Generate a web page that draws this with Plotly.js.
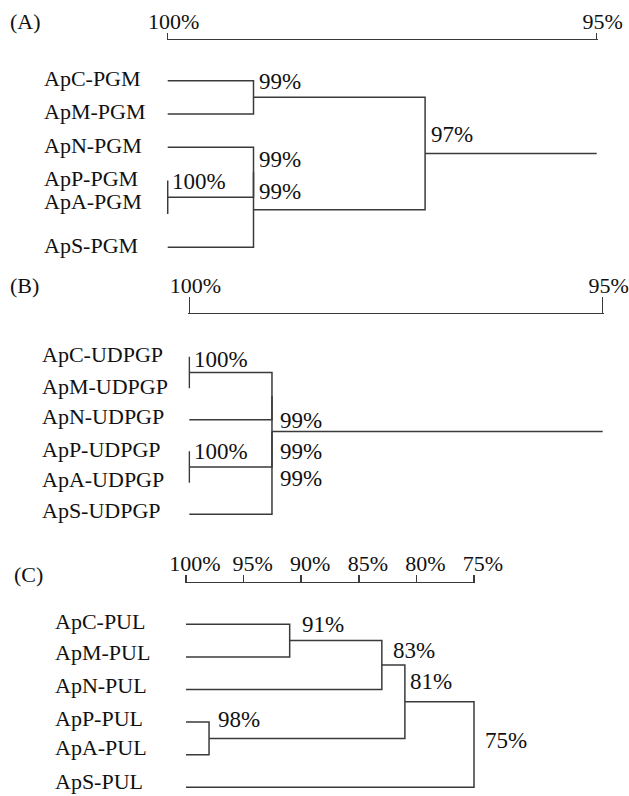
<!DOCTYPE html>
<html>
<head>
<meta charset="utf-8">
<script src="https://cdn.plot.ly/plotly-3.0.1.min.js"></script>
<style>
html,body{margin:0;padding:0;background:#fff;}
#chart{width:629px;height:796px;}
</style>
</head>
<body>
<div id="chart"></div>
<script>
// ---------------- data ----------------
// (A) PGM
const pgmLeaves = ['ApC-PGM', 'ApM-PGM', 'ApN-PGM', 'ApP-PGM', 'ApA-PGM', 'ApS-PGM'];
// merges: [childA, childB, similarity %]; leaves are 0..5, each merge creates node 6,7,...
const pgmMerges = [[3, 4, 100], [0, 1, 99], [2, 6, 99], [8, 5, 99], [7, 9, 97]];
const pgmScaleTicks = [100, 95];
const pgmRootEnd = 95;

// (B) UDPGP
const udpgpLeaves = ['ApC-UDPGP', 'ApM-UDPGP', 'ApN-UDPGP', 'ApP-UDPGP', 'ApA-UDPGP', 'ApS-UDPGP'];
const udpgpMerges = [[0, 1, 100], [3, 4, 100], [6, 2, 99], [8, 7, 99], [9, 5, 99]];
const udpgpScaleTicks = [100, 95];
const udpgpRootEnd = 95;

// (C) PUL
const pulLeaves = ['ApC-PUL', 'ApM-PUL', 'ApN-PUL', 'ApP-PUL', 'ApA-PUL', 'ApS-PUL'];
const pulMerges = [[0, 1, 91], [6, 2, 83], [3, 4, 98], [7, 8, 81], [9, 5, 75]];
const pulScaleTicks = [100, 95, 90, 85, 80, 75];
const pulRootEnd = 75;

const panelLetters = ['(A)', '(B)', '(C)'];

// ---------------- layout / style ----------------
const W = 629, H = 796;
const FONT = 'Liberation Serif, Times New Roman, serif';
const TXT = '#111111';
const LINE = '#3a3a3a';
const FS_LEAF = 22, FS_NODE = 23, FS_SCALE = 22, FS_LETTER = 22;

const panels = [
  {leaves: pgmLeaves, merges: pgmMerges, ticks: pgmScaleTicks, rootEnd: pgmRootEnd,
   x0: 167.7, x1: 596.7, scaleY: 40, bottom: 265, leaf0: 80.7, step: 33.3, ticklen: 6, tshift: -6,
   letterX: 8, letterY: 22, labelX: 42, labelNudge: [0, 1, 0, 0, 10, 0],
   mergeLabel: [[4, 3.03], [5, 0.02], [5, 2.36], [5, 3.33], [6, 1.63]], stemFrom: null},
  {leaves: udpgpLeaves, merges: udpgpMerges, ticks: udpgpScaleTicks, rootEnd: udpgpRootEnd,
   x0: 189.3, x1: 602.7, scaleY: 314.3, bottom: 540, leaf0: 356.7, step: 31.5, ticklen: 16, tshift: -6,
   letterX: 8, letterY: 285, labelX: 40, labelNudge: [0, 0, 1, 0, 1, 2],
   mergeLabel: [[5, 0.10], [5, 3.02], [8, 2.04], [8, 3.02], [8, 3.86]], stemFrom: 9},
  {leaves: pulLeaves, merges: pulMerges, ticks: pulScaleTicks, rootEnd: pulRootEnd,
   x0: 186, x1: 474, scaleY: 583.3, bottom: 796, leaf0: 624.3, step: 32.6, ticklen: 7, tshift: -9,
   letterX: 12, letterY: 574, labelX: 53, labelNudge: [1, 2, 2, 2, 5, 4],
   mergeLabel: [[12, 0.02], [11, 0.79], [9, 2.93], [5, 1.76], [11, 3.55]], stemFrom: null}
];

const traces = [];
const annotations = [];
const layout = {
  width: W, height: H,
  margin: {l: 0, r: 0, t: 0, b: 0},
  paper_bgcolor: '#ffffff', plot_bgcolor: 'rgba(0,0,0,0)',
  showlegend: false,
  font: {family: FONT, size: FS_LEAF, color: TXT},
  annotations: annotations
};

panels.forEach((p, k) => {
  const sfx = k === 0 ? '' : String(k + 1);
  const xr = 'x' + sfx, yr = 'y' + sfx;
  const v0 = p.ticks[0], v1 = p.ticks[p.ticks.length - 1];
  const ppu = (p.x1 - p.x0) / (v0 - v1);

  layout['xaxis' + sfx] = {
    domain: [(p.x0 - 1) / W, (p.x1 + 1) / W],
    range: [v0 + 1 / ppu, v1 - 1 / ppu],
    anchor: yr, side: 'top',
    showline: true, linecolor: LINE, linewidth: 1.5,
    ticks: 'outside', ticklen: p.ticklen, tickwidth: 1.5, tickcolor: LINE,
    tickvals: p.ticks, ticktext: p.ticks.map(v => v + '%'),
    tickfont: {family: FONT, size: FS_SCALE, color: TXT},
    ticklabelshift: p.tshift, ticklabelstandoff: -5,
    showgrid: false, zeroline: false, fixedrange: true
  };
  layout['yaxis' + sfx] = {
    domain: [1 - p.bottom / H, 1 - p.scaleY / H],
    range: [(p.bottom - p.leaf0) / p.step, (p.scaleY - p.leaf0) / p.step],
    anchor: xr,
    visible: false, showgrid: false, zeroline: false, fixedrange: true
  };

  // build dendrogram polylines from the merge table
  const n = p.leaves.length;
  const nodeX = [], nodeY = [];
  for (let i = 0; i < n; i++) { nodeX.push(v0); nodeY.push(i); }
  const xs = [], ys = [];
  p.merges.forEach(([a, b, s]) => {
    xs.push(nodeX[a], s, s, nodeX[b], null);
    ys.push(nodeY[a], nodeY[a], nodeY[b], nodeY[b], null);
    nodeX.push(s);
    nodeY.push((nodeY[a] + nodeY[b]) / 2);
  });
  const root = nodeX.length - 1;
  const stemY = p.stemFrom != null ? nodeY[p.stemFrom] : nodeY[root];
  if (p.rootEnd !== nodeX[root]) {
    xs.push(nodeX[root], p.rootEnd, null);
    ys.push(stemY, stemY, null);
  }
  traces.push({
    type: 'scatter', mode: 'lines', x: xs, y: ys, xaxis: xr, yaxis: yr,
    line: {color: LINE, width: 1.5}, hoverinfo: 'skip', connectgaps: false
  });

  // leaf labels
  p.leaves.forEach((name, i) => {
    annotations.push({
      xref: 'paper', yref: yr, x: p.labelX / W, y: i, xanchor: 'left', yanchor: 'middle',
      yshift: 2 + p.labelNudge[i], text: name, showarrow: false,
      font: {family: FONT, size: FS_LEAF, color: TXT}
    });
  });

  // node similarity labels
  p.merges.forEach(([a, b, s], m) => {
    annotations.push({
      xref: xr, yref: yr, x: s, y: p.mergeLabel[m][1], xanchor: 'left', yanchor: 'middle',
      xshift: p.mergeLabel[m][0] - 2, yshift: 0, text: s + '%', showarrow: false,
      font: {family: FONT, size: FS_NODE, color: TXT}
    });
  });

  // panel letter
  annotations.push({
    xref: 'paper', yref: 'paper', x: p.letterX / W, y: 1 - p.letterY / H,
    xanchor: 'left', yanchor: 'middle', text: panelLetters[k], showarrow: false,
    font: {family: FONT, size: FS_LETTER, color: TXT}
  });
});

Plotly.newPlot('chart', traces, layout, {displayModeBar: false, staticPlot: true});
</script>
</body>
</html>
